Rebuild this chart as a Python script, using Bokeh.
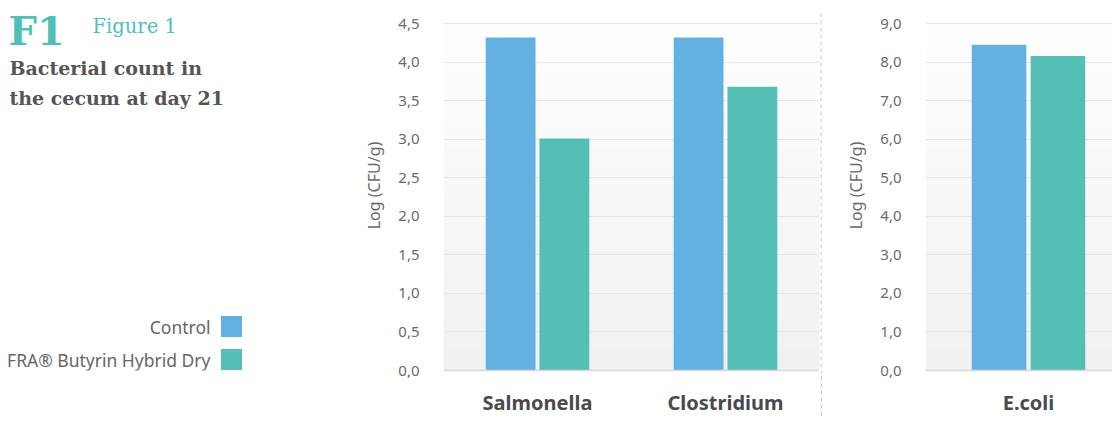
import numpy as np
from bokeh.plotting import figure
from bokeh.layouts import row
from bokeh.models import (Range1d, FixedTicker, CustomJSTickFormatter, BoxAnnotation)
from bokeh.core.properties import value
from bokeh.embed import file_html
from bokeh.resources import INLINE

# ---------------- data ----------------
series_names = ["Control", "FRA® Butyrin Hybrid Dry"]
series_colors = ["#63b1e3", "#53bfb5"]

left_categories = ["Salmonella", "Clostridium"]
left_control = [4.32, 4.32]
left_treated = [3.01, 3.68]
left_ticks = [0.0, 0.5, 1.0, 1.5, 2.0, 2.5, 3.0, 3.5, 4.0, 4.5]

right_categories = ["E.coli"]
right_control = [8.45]
right_treated = [8.16]
right_ticks = [0.0, 1.0, 2.0, 3.0, 4.0, 5.0, 6.0, 7.0, 8.0, 9.0]

tag_text = "F1"
figure_label = "Figure 1"
title_lines = ["Bacterial count in", "the cecum at day 21"]
y_label = "Log (CFU/g)"

H = 427
BOTTOM = 57          # border below the frames (pixels)
FRAME_H = H - BOTTOM  # frames run from the page top to y = 370
HEAD = 23            # blank space above the top tick inside the chart frames
LABEL_FONT = "Noto Sans"


def make_chart(categories, control, treated, ticks, width, border_left, x_end):
    n = len(categories)
    xs = np.arange(n)
    y_end = ticks[-1] * FRAME_H / (FRAME_H - HEAD)
    p = figure(width=width, height=H, output_backend="svg", toolbar_location=None,
               x_range=Range1d(-0.5, x_end), y_range=Range1d(ticks[0], y_end),
               min_border_left=border_left, min_border_right=0,
               min_border_top=0, min_border_bottom=BOTTOM)
    p.outline_line_color = None
    p.background_fill_color = "#ffffff"
    p.border_fill_color = "#ffffff"
    # soft vertical gradient of the plotting area
    nb = 14
    top = ticks[-1]
    for i in range(nb):
        p.add_layout(BoxAnnotation(bottom=top * i / nb, top=top * (i + 1) / nb,
                                   fill_color="#000000",
                                   fill_alpha=0.055 * (1 - (i + 0.5) / nb),
                                   line_alpha=0, level="image"))
    off = 0.143
    w = 0.265
    p.vbar(x=list(xs - off), top=control, width=w, bottom=0,
           fill_color=series_colors[0], line_color=None)
    p.vbar(x=list(xs + off), top=treated, width=w, bottom=0,
           fill_color=series_colors[1], line_color=None)

    # y axis
    yax = p.yaxis[0]
    yax.ticker = FixedTicker(ticks=ticks)
    yax.formatter = CustomJSTickFormatter(code="return tick.toFixed(1).replace('.', ',');")
    yax.axis_line_color = None
    yax.major_tick_line_color = None
    yax.minor_tick_line_color = None
    yax.major_label_standoff = 18
    yax.major_label_text_font = LABEL_FONT
    yax.major_label_text_font_size = "15px"
    yax.major_label_text_color = "#6a6a6a"
    yax.axis_label = y_label
    yax.axis_label_standoff = 10
    yax.axis_label_text_font = LABEL_FONT
    yax.axis_label_text_font_style = "normal"
    yax.axis_label_text_font_size = "16px"
    yax.axis_label_text_color = "#6a6a6a"

    # x axis
    xax = p.xaxis[0]
    xax.ticker = FixedTicker(ticks=list(range(n)))
    xax.formatter = CustomJSTickFormatter(args=dict(labels=categories),
                                          code="const i = Math.round(tick); return labels[i] || '';")
    xax.axis_line_color = "#d8d8d8"
    xax.axis_line_width = 1.5
    xax.major_tick_line_color = None
    xax.minor_tick_line_color = None
    xax.major_label_standoff = 12
    xax.major_label_text_font = LABEL_FONT
    xax.major_label_text_font_style = "bold"
    xax.major_label_text_font_size = "20px"
    xax.major_label_text_color = "#4a4a4a"

    p.xgrid.grid_line_color = None
    p.ygrid.grid_line_color = "#e6e6e6"
    p.ygrid.level = "underlay"
    return p


# --------------- left text / legend panel ---------------
# frames are aligned across the row; this panel's frame spans y = 0 .. FRAME_H and
# its y range makes one unit equal one pixel measured from the page top.
A_W = 345
pa = figure(width=A_W, height=H, output_backend="svg", toolbar_location=None,
            x_range=Range1d(0, A_W), y_range=Range1d(FRAME_H, 0),
            min_border_left=0, min_border_right=0,
            min_border_top=0, min_border_bottom=BOTTOM)
pa.axis.visible = False
pa.grid.visible = False
pa.outline_line_color = None

teal = "#4fc0b8"
pa.text(x=[8], y=[30], text=[tag_text], text_font=value("DejaVu Serif"),
        text_font_size=value("40px"), text_font_style="bold", text_color=teal,
        text_baseline="alphabetic", text_align="left")
pa.text(x=[92], y=[26], text=[figure_label], text_font=value("DejaVu Serif"),
        text_font_size=value("19.5px"), text_color=teal,
        text_baseline="alphabetic", text_align="left")
pa.text(x=[9, 9], y=[67, 97], text=title_lines, text_font=value("DejaVu Serif"),
        text_font_size=value("19px"), text_font_style="bold", text_color="#555555",
        text_baseline="alphabetic", text_align="left")

leg_y = [326, 359]
pa.text(x=[210, 210], y=leg_y, text=series_names, text_font=value(LABEL_FONT),
        text_font_size=value("17.5px"), text_color="#666666",
        text_baseline="middle", text_align="right")
pa.rect(x=[231, 231], y=leg_y, width=21, height=21, fill_color=series_colors,
        line_color=None)

# --------------- charts ---------------
pb = make_chart(left_categories, left_control, left_treated, left_ticks,
                width=474, border_left=98, x_end=1.5)

# thin separator panel: dashed segment in the frame, continued below it by a long tick
pd_ = figure(width=3, height=H, output_backend="svg", toolbar_location=None,
             x_range=Range1d(0, 1), y_range=Range1d(FRAME_H, 0),
             min_border_left=0, min_border_right=0,
             min_border_top=0, min_border_bottom=BOTTOM)
pd_.yaxis.visible = False
pd_.grid.visible = False
pd_.outline_line_color = None
pd_.segment(x0=[0.5], y0=[13], x1=[0.5], y1=[FRAME_H], line_color="#c8c8c8",
            line_dash="4 3", line_width=1)
dax = pd_.xaxis[0]
dax.ticker = FixedTicker(ticks=[0.5])
dax.formatter = CustomJSTickFormatter(code="return '';")
dax.axis_line_color = None
dax.minor_tick_line_color = None
dax.major_tick_in = 0
dax.major_tick_out = 45
dax.major_tick_line_color = "#c8c8c8"
dax.major_tick_line_dash = "4 3"
dax.major_tick_line_width = 1

pc = make_chart(right_categories, right_control, right_treated, right_ticks,
                width=290, border_left=103, x_end=-0.5 + 187 / 206)

layout = row(pa, pb, pd_, pc, spacing=0)

open("out.html", "w").write(file_html(layout, INLINE))
